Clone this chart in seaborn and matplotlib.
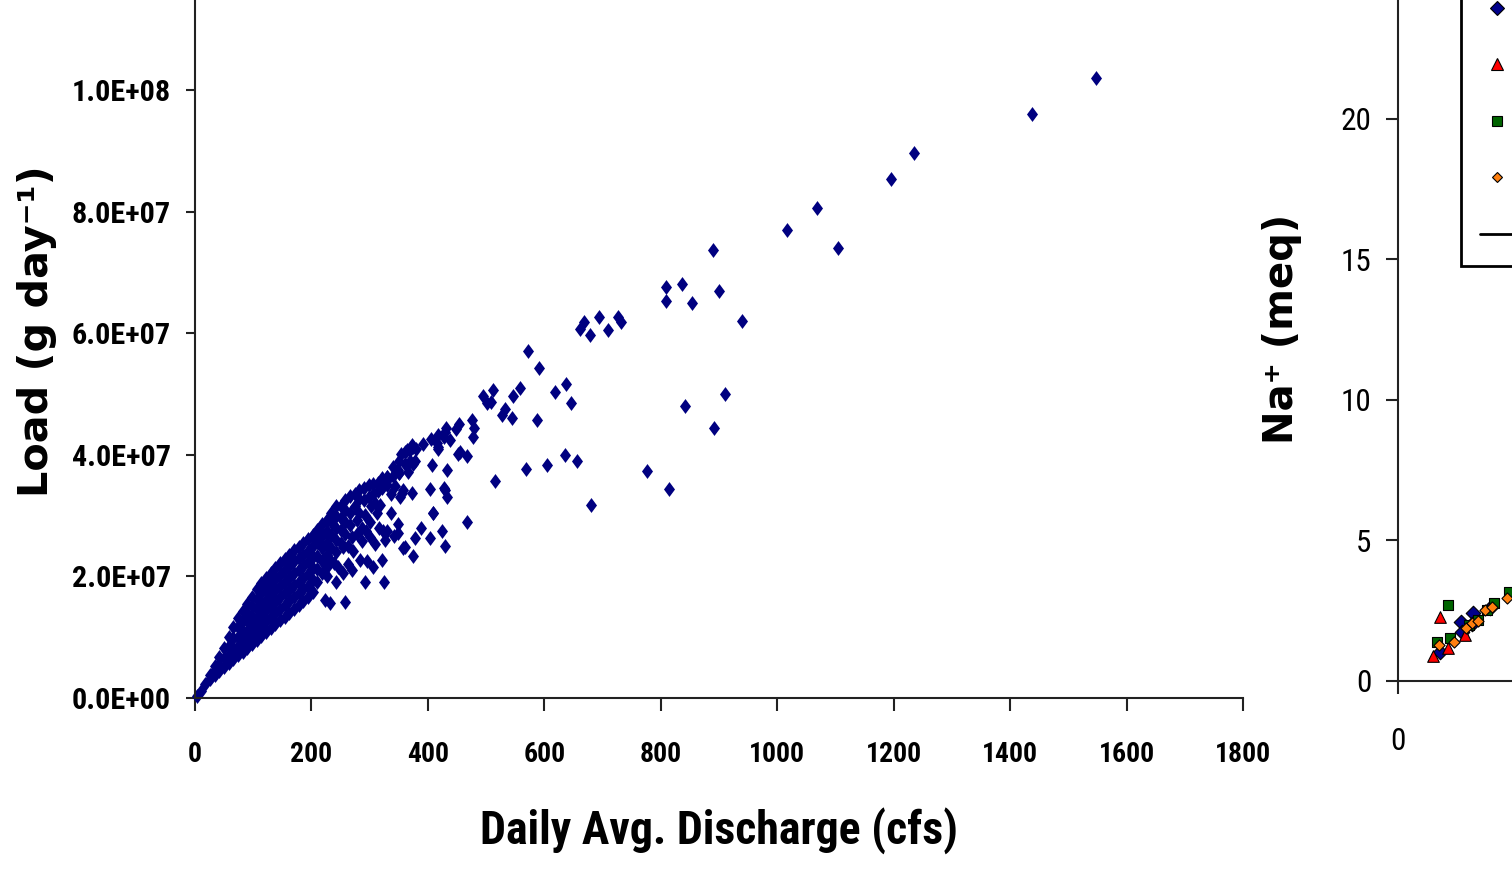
import matplotlib
matplotlib.use("Agg")
import matplotlib.pyplot as plt
from matplotlib import font_manager as fm
from matplotlib.lines import Line2D
from matplotlib.ticker import FuncFormatter
import numpy as np
import pandas as pd
import seaborn as sns

# ---------------------------------------------------------------------------
# Daily load vs. daily average discharge (load in units of 1e6 g/day)
# ---------------------------------------------------------------------------
core_points = [
    (3, 0.3), (10, 1.2), (18, 2.3),
    (26, 3.2), (26, 3.8),
    (34, 3.8), (34, 4.6), (34, 5.3),
    (42, 4.4), (42, 5.5), (42, 6.7),
    (50, 5.1), (50, 6.6), (50, 8.2),
    (58, 5.7), (58, 7.1), (58, 8.6), (58, 10.0),
    (66, 6.4), (66, 8.1), (66, 9.9), (66, 11.6),
    (74, 7.0), (74, 8.5), (74, 10.0), (74, 11.6), (74, 13.1),
    (82, 7.6), (82, 9.3), (82, 11.0), (82, 12.6), (82, 14.3),
    (90, 8.3), (90, 9.7), (90, 11.1), (90, 12.6), (90, 14.0), (90, 15.5),
    (98, 8.9), (98, 10.5), (98, 12.0), (98, 13.5), (98, 15.1), (98, 16.6),
    (106, 9.5), (106, 11.2), (106, 12.9), (106, 14.6), (106, 16.3), (106, 18.0),
    (114, 10.2), (114, 11.9), (114, 13.6), (114, 15.5), (114, 17.2), (114, 18.9),
    (122, 10.8), (122, 12.6), (122, 14.4), (122, 16.2), (122, 18.0), (122, 19.8),
    (130, 11.5), (130, 13.3), (130, 15.1), (130, 17.0), (130, 18.8), (130, 20.6),
    (138, 12.1), (138, 14.0), (138, 15.8), (138, 17.7), (138, 19.5), (138, 21.4),
    (146, 12.8), (146, 14.7), (146, 16.6), (146, 18.4), (146, 20.3), (146, 22.2),
    (154, 13.4), (154, 15.3), (154, 17.2), (154, 19.1), (154, 21.0), (154, 22.9),
    (162, 14.0), (162, 15.9), (162, 17.8), (162, 19.8), (162, 21.7), (162, 23.6),
    (170, 14.7), (170, 16.6), (170, 18.6), (170, 20.5), (170, 22.5), (170, 24.4),
    (178, 15.3), (178, 17.2), (178, 19.1), (178, 21.1), (178, 23.0), (178, 24.9),
    (186, 16.0), (186, 17.9), (186, 19.8), (186, 21.7), (186, 23.6), (186, 25.5),
    (194, 16.6), (194, 18.5), (194, 20.4), (194, 22.3), (194, 24.2), (194, 26.1),
    (202, 17.5), (202, 19.4), (202, 21.3), (202, 23.2), (202, 25.0), (202, 26.8),
    (210, 19.0), (210, 21.2), (210, 23.4), (210, 25.6), (210, 27.7),
]

upper_band_points = [
    (218, 20.5), (218, 22.6), (218, 24.6), (218, 26.6), (218, 28.6),
    (226, 21.5), (226, 23.5), (226, 25.5), (226, 27.5), (226, 29.3),
    (234, 22.6), (234, 24.7), (234, 26.8), (234, 28.9), (234, 30.5),
    (242, 24.0), (242, 26.0), (242, 28.0), (242, 30.0), (242, 31.5),
    (250, 25.5), (250, 27.6), (250, 29.6), (250, 31.5),
    (258, 27.0), (258, 29.0), (258, 31.0), (258, 32.6),
    (266, 28.5), (266, 30.5), (266, 33.3),
    (274, 31.5), (274, 33.6),
    (282, 30.5), (282, 32.8), (282, 34.2),
    (290, 32.5), (290, 34.5),
    (298, 33.0), (298, 35.0),
    (306, 33.5), (306, 35.2),
    (314, 34.0), (314, 35.4),
    (322, 34.5), (322, 36.2),
    (330, 35.0), (330, 36.3),
    (340, 36.5), (340, 38.0),
    (350, 37.0), (350, 39.0),
    (360, 38.5), (360, 40.4),
    (370, 39.0), (370, 40.8),
    (380, 41.0), (392, 41.8), (405, 42.6),
    (418, 43.3), (418, 41.0), (430, 43.8), (448, 44.3),
    (246, 21.5), (254, 20.5), (262, 22.0), (262, 25.0), (270, 21.0),
    (270, 26.5), (278, 27.0), (286, 25.8), (286, 28.0), (294, 27.5),
    (296, 22.5), (300, 26.5), (302, 31.5), (306, 21.5), (310, 32.0),
    (316, 28.0), (318, 31.8), (336, 30.5), (336, 33.5), (344, 34.8),
]

spread_points = [
    (453, 45.1), (475, 45.8), (480, 44.4), (477, 43.0), (431, 44.4),
    (427, 43.0), (418, 41.3), (438, 42.4), (455, 40.5), (468, 39.8),
    (407, 38.3), (375, 41.3), (353, 40.2), (375, 38.5), (350, 37.0),
    (329, 36.4), (323, 34.8), (355, 33.7), (372, 33.7), (404, 34.3),
    (427, 34.5), (432, 33.1), (408, 30.5), (468, 28.9), (348, 28.7),
    (329, 27.4), (326, 26.0), (342, 26.7), (389, 27.9), (378, 26.3),
    (404, 26.3), (424, 27.4), (429, 25.0), (358, 24.6), (375, 23.4),
    (292, 19.1), (325, 19.1), (309, 25.4), (283, 22.7), (272, 24.1),
    (255, 24.9), (238, 22.2), (226, 20.0), (232, 15.6), (258, 15.8),
    (321, 22.7), (323, 27.4), (278, 29.3), (292, 30.1), (301, 29.0),
    (312, 30.4), (321, 35.3), (332, 36.1), (349, 37.5), (364, 40.8),
    (415, 41.9), (432, 37.5), (452, 40.2), (358, 34.2), (349, 27.1),
    (352, 33.1), (366, 37.2), (378, 38.9), (372, 41.6), (409, 30.4),
    (429, 34.2), (361, 24.9), (223, 16.1), (243, 19.1),
]

high_flow_points = [
    (1547, 102.0), (1438, 96.1), (1235, 89.6), (1195, 85.4), (1104, 74.0),
    (1068, 80.6), (1017, 77.0), (890, 73.7), (900, 66.9), (837, 68.1),
    (809, 67.6), (809, 65.3), (854, 65.0), (940, 62.0), (842, 48.0),
    (891, 44.4), (910, 50.0), (776, 37.3), (814, 34.4), (681, 31.7),
    (727, 62.7), (731, 61.9), (661, 60.7), (668, 61.8), (678, 59.7),
    (694, 62.6), (709, 60.6), (572, 57.1), (590, 54.2), (559, 51.0),
    (546, 49.7), (532, 47.5), (527, 46.5), (544, 46.0), (587, 45.7),
    (618, 50.3), (638, 51.6), (645, 48.6), (569, 37.7), (605, 38.3),
    (636, 40.0), (656, 39.0), (494, 49.7), (501, 48.5), (511, 50.7),
    (508, 48.7), (515, 35.7),
]

x_ticks_cfs = [0, 200, 400, 600, 800, 1000, 1200, 1400, 1600, 1800]
y_ticks_load = [0, 2e7, 4e7, 6e7, 8e7, 1e8]

# ---------------------------------------------------------------------------
# Sodium comparison panel (meq)
# ---------------------------------------------------------------------------
na_site1_x = [2.23, 2.68, 1.49, 2.26, 3.28, 2.63]
na_site1_y = [2.10, 2.40, 1.03, 1.74, 2.57, 2.01]
na_site2_x = [1.49, 1.23, 2.38, 1.79]
na_site2_y = [2.26, 0.88, 1.63, 1.16]
na_site3_x = [1.77, 1.38, 1.86, 2.51, 2.83, 3.40, 3.94, 3.18]
na_site3_y = [2.70, 1.36, 1.51, 1.99, 2.16, 2.78, 3.17, 2.51]
na_site4_x = [1.45, 1.98, 2.41, 2.65, 2.85, 3.09, 3.33, 3.87]
na_site4_y = [1.27, 1.36, 1.87, 2.05, 2.13, 2.51, 2.62, 2.95]
na_series_names = ["Site 1", "Site 2", "Site 3", "Site 4", "1:1 line"]
na_x_ticks = [0]
na_y_ticks = [0, 5, 10, 15, 20]

# ---------------------------------------------------------------------------
sns.set_style("white")


def pick_narrow_family():
    """Return (family, stretch) of a narrow sans face if one is installed."""
    candidates = [
        ("Liberation Sans Narrow", "normal"),
        ("Roboto Condensed", "normal"),
        ("Noto Sans Condensed", "normal"),
        ("Open Sans Condensed", "normal"),
        ("Noto Sans", "condensed"),
        ("Open Sans", "condensed"),
        ("Roboto", "condensed"),
    ]
    for fam, stretch in candidates:
        props = fm.FontProperties(family=fam, stretch=stretch, weight="bold")
        try:
            path = fm.findfont(props, fallback_to_default=False)
        except ValueError:
            continue
        name = path.lower()
        if "condensed" in name or "narrow" in name:
            return fam, stretch
    return "Liberation Sans", "normal"


NARROW, NARROW_STRETCH = pick_narrow_family()
WIDE = "DejaVu Sans"
plt.rcParams["font.family"] = [NARROW, "DejaVu Sans"]
plt.rcParams["font.stretch"] = NARROW_STRETCH

W, H = 1512, 873
fig = plt.figure(figsize=(W / 100, H / 100), dpi=100)
renderer = fig.canvas.get_renderer()


def fit_size(text, target_px, family, weight="bold", stretch="normal", probe=20.0):
    """Font size (pt) at which `text` spans `target_px` pixels."""
    t = fig.text(0, 0, text, fontsize=probe, family=family, weight=weight,
                 fontstretch=stretch)
    width = t.get_window_extent(renderer=renderer).width
    t.remove()
    return probe * target_px / width


def pixel_box(left, bottom, width, height):
    return [left / W, (H - bottom) / H, width / W, height / H]


ytick_size = fit_size("1.0E+08", 99, NARROW, stretch=NARROW_STRETCH)
xtick_size = fit_size("1800", 56, NARROW, stretch=NARROW_STRETCH)
xlabel_size = fit_size("Daily Avg. Discharge (cfs)", 477, NARROW, stretch=NARROW_STRETCH)
ylabel_size = fit_size("Load (g day\u207b\u00b9)", 332, WIDE)
na_tick_size = fit_size("20", 31, NARROW, weight="normal", stretch=NARROW_STRETCH)
na_label_size = fit_size("Na\u207a (meq)", 230, WIDE)

# ---- main load panel ----
ax = fig.add_axes(pixel_box(195, 698, 1048, 729.6))
load_df = pd.DataFrame(core_points + upper_band_points + spread_points + high_flow_points,
                       columns=["discharge", "load_mg"])
load_df["load"] = load_df["load_mg"] * 1e6

diamond = [(0, 1), (0.74, 0), (0, -1), (-0.74, 0)]
sns.scatterplot(data=load_df, x="discharge", y="load", marker=diamond, s=115,
                color="#000080", edgecolor="#000080", linewidth=0, ax=ax,
                clip_on=False, legend=False)

ax.set_xlim(0, 1800)
ax.set_ylim(0, 1.2e8)
ax.set_xticks(x_ticks_cfs)
ax.set_yticks(y_ticks_load)
ax.yaxis.set_major_formatter(FuncFormatter(lambda v, _: f"{v:.1E}"))
ax.tick_params(axis="y", direction="out", length=6.5, width=1.5, pad=11,
               labelsize=ytick_size, left=True, color="#222222", labelcolor="black")
ax.tick_params(axis="x", direction="out", length=9, width=1.5, pad=22,
               labelsize=xtick_size, bottom=True, color="#222222", labelcolor="black")
plt.setp(ax.get_xticklabels() + ax.get_yticklabels(), fontweight="bold")
for side in ("top", "right"):
    ax.spines[side].set_visible(False)
for side in ("left", "bottom"):
    ax.spines[side].set_linewidth(1.5)
    ax.spines[side].set_color("#222222")

ax.set_xlabel("Daily Avg. Discharge (cfs)", fontsize=xlabel_size, fontweight="bold",
              color="black")
ax.xaxis.set_label_coords(0.5, -0.149)
ax.set_ylabel("Load (g day\u207b\u00b9)", fontsize=ylabel_size, fontweight="bold",
              family=WIDE, fontstretch="normal", color="black")
ax.yaxis.set_label_coords(-0.132, 0.503)

# ---- sodium panel (partly beyond the right edge) ----
ax2 = fig.add_axes(pixel_box(1398, 680.7, 702.5, 702.5))
series = [
    (na_site1_x, na_site1_y, "D", "#00008B", 55),
    (na_site2_x, na_site2_y, "^", "#FF0000", 70),
    (na_site3_x, na_site3_y, "s", "#006400", 52),
    (na_site4_x, na_site4_y, "D", "#FF7F0E", 32),
]
for (xs, ys, m, c, s), name in zip(series, na_series_names):
    sns.scatterplot(x=xs, y=ys, marker=m, s=s, color=c, edgecolor="black",
                    linewidth=0.8, ax=ax2, label=name, legend=False)
ax2.set_xlim(0, 25)
ax2.set_ylim(0, 25)
ax2.set_xticks(na_x_ticks)
ax2.set_yticks(na_y_ticks)
ax2.tick_params(axis="both", direction="out", length=9, width=1.5, pad=10,
                labelsize=na_tick_size, left=True, bottom=True, color="#222222",
                labelcolor="black")
ax2.tick_params(axis="x", pad=24)
for side in ("top", "right"):
    ax2.spines[side].set_visible(False)
for side in ("left", "bottom"):
    ax2.spines[side].set_linewidth(1.5)
    ax2.spines[side].set_color("#222222")
ax2.set_ylabel("Na\u207a (meq)", fontsize=na_label_size, fontweight="bold",
               family=WIDE, fontstretch="normal", color="black")
ax2.yaxis.set_label_coords(-0.137, 0.501)

handles = [Line2D([], [], ls="none", marker=m, color=c, markeredgecolor="black",
                  markeredgewidth=0.8, markersize=np.sqrt(s) * 0.95)
           for (_, _, m, c, s) in series]
handles.append(Line2D([], [], color="black", lw=2))
leg = fig.legend(handles, na_series_names, loc="lower left",
                 bbox_to_anchor=(1461 / W, (H - 266) / H), bbox_transform=fig.transFigure,
                 fontsize=16, labelspacing=1.6, handlelength=1.5, handletextpad=0.6,
                 borderpad=0.87, borderaxespad=0, fancybox=False, framealpha=1)
leg.get_frame().set_edgecolor("black")
leg.get_frame().set_linewidth(2)

fig.savefig("out.png", dpi=100)
